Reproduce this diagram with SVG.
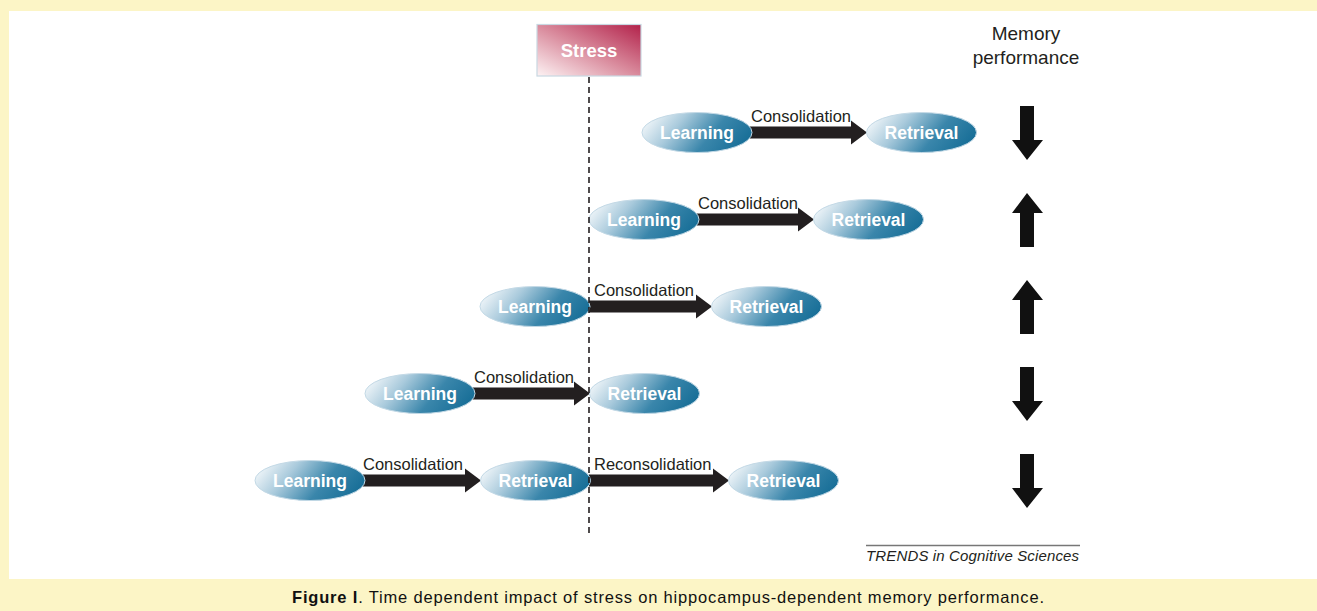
<svg xmlns="http://www.w3.org/2000/svg" width="1317" height="611" viewBox="0 0 1317 611">
<style>
.lbl{font-family:"Liberation Sans",Arial,sans-serif;font-size:16.5px;fill:#231f20}
.nt{font-family:"Liberation Sans",Arial,sans-serif;font-size:17.5px;font-weight:bold;fill:#ffffff;text-anchor:middle}
.ell{fill:url(#eg);stroke:#c3d9e6;stroke-width:1}
.arr{fill:#231f20}
.mp{font-family:"Liberation Sans",Arial,sans-serif;font-size:19px;fill:#231f20;text-anchor:middle}
</style>
<defs>
<linearGradient id="eg" x1="0" y1="0.3" x2="1" y2="0.6">
<stop offset="0" stop-color="#f2f7fa"/>
<stop offset="0.3" stop-color="#a9cadc"/>
<stop offset="0.65" stop-color="#3a86ab"/>
<stop offset="1" stop-color="#176e97"/>
</linearGradient>
<linearGradient id="sg" x1="0" y1="1" x2="1" y2="0">
<stop offset="0" stop-color="#fdf3f4"/>
<stop offset="0.5" stop-color="#d98a9c"/>
<stop offset="1" stop-color="#b2214a"/>
</linearGradient>
</defs>
<rect x="0" y="0" width="1317" height="611" fill="#fcf5c6"/>
<rect x="9" y="11" width="1308" height="568" fill="#ffffff"/>

<g id="connectors">
<path class="arr" d="M750,126.5 H851 V120.5 L867,132.5 L851,144.5 V138.5 H750 Z"/>
<path class="arr" d="M697,213.5 H798 V207.5 L814,219.5 L798,231.5 V225.5 H697 Z"/>
<path class="arr" d="M589,300.5 H696 V294.5 L712,306.5 L696,318.5 V312.5 H589 Z"/>
<path class="arr" d="M473,387.5 H574 V381.5 L590,393.5 L574,405.5 V399.5 H473 Z"/>
<path class="arr" d="M363,474.5 H465 V468.5 L481,480.5 L465,492.5 V486.5 H363 Z"/>
<path class="arr" d="M589,474.5 H713 V468.5 L729,480.5 L713,492.5 V486.5 H589 Z"/>
<text class="lbl" x="751" y="122">Consolidation</text>
<text class="lbl" x="698" y="209">Consolidation</text>
<text class="lbl" x="594" y="296">Consolidation</text>
<text class="lbl" x="474" y="383">Consolidation</text>
<text class="lbl" x="363" y="470">Consolidation</text>
<text class="lbl" x="594" y="470">Reconsolidation</text>
</g>

<g id="row1-learning"><ellipse class="ell" cx="697" cy="132.5" rx="55" ry="20"/><text class="nt" x="697" y="139">Learning</text></g>
<g id="row1-retrieval"><ellipse class="ell" cx="921.5" cy="132.5" rx="55" ry="20"/><text class="nt" x="921.5" y="139">Retrieval</text></g>
<g id="row2-learning"><ellipse class="ell" cx="644" cy="219.5" rx="55" ry="20"/><text class="nt" x="644" y="226">Learning</text></g>
<g id="row2-retrieval"><ellipse class="ell" cx="868.5" cy="219.5" rx="55" ry="20"/><text class="nt" x="868.5" y="226">Retrieval</text></g>
<g id="row3-learning"><ellipse class="ell" cx="535" cy="306.5" rx="55" ry="20"/><text class="nt" x="535" y="313">Learning</text></g>
<g id="row3-retrieval"><ellipse class="ell" cx="766.5" cy="306.5" rx="55" ry="20"/><text class="nt" x="766.5" y="313">Retrieval</text></g>
<g id="row4-learning"><ellipse class="ell" cx="420" cy="393.5" rx="55" ry="20"/><text class="nt" x="420" y="400">Learning</text></g>
<g id="row4-retrieval"><ellipse class="ell" cx="644.5" cy="393.5" rx="55" ry="20"/><text class="nt" x="644.5" y="400">Retrieval</text></g>
<g id="row5-learning"><ellipse class="ell" cx="310" cy="480.5" rx="55" ry="20"/><text class="nt" x="310" y="487">Learning</text></g>
<g id="row5-retrieval"><ellipse class="ell" cx="535.5" cy="480.5" rx="55" ry="20"/><text class="nt" x="535.5" y="487">Retrieval</text></g>
<g id="row5-retrieval2"><ellipse class="ell" cx="783.5" cy="480.5" rx="55" ry="20"/><text class="nt" x="783.5" y="487">Retrieval</text></g>

<g id="stress">
<rect x="537" y="24.5" width="104" height="51.5" fill="url(#sg)" stroke="#c8d8e2" stroke-width="1.2"/>
<text x="589" y="57" font-family="Liberation Sans, Arial, sans-serif" font-size="18.5" font-weight="bold" fill="#ffffff" text-anchor="middle">Stress</text>
</g>
<line x1="589" y1="77" x2="589" y2="533" stroke="#231f20" stroke-width="1.6" stroke-dasharray="6,4"/>

<g id="memory-performance">
<text class="mp" x="1026" y="40">Memory</text>
<text class="mp" x="1026" y="64">performance</text>
</g>
<g id="perf-arrows" fill="#111111">
<path d="M1020,106 H1034 V140 H1043 L1027,160 L1012,140 H1020 Z"/>
<path d="M1020,247 H1034 V213 H1043 L1027,193 L1012,213 H1020 Z"/>
<path d="M1020,334 H1034 V300 H1043 L1027,280 L1012,300 H1020 Z"/>
<path d="M1020,367 H1034 V401 H1043 L1027,421 L1012,401 H1020 Z"/>
<path d="M1020,454 H1034 V488 H1043 L1027,508 L1012,488 H1020 Z"/>
</g>

<line x1="866" y1="545.5" x2="1080" y2="545.5" stroke="#777777" stroke-width="1.3"/>
<text x="866" y="561" font-family="Liberation Sans, Arial, sans-serif" font-size="15" font-style="italic" fill="#231f20" textLength="213" lengthAdjust="spacing">TRENDS in Cognitive Sciences</text>
<text x="292" y="603" font-family="Liberation Sans, Arial, sans-serif" font-size="16.5" fill="#111111" textLength="752" lengthAdjust="spacing"><tspan font-weight="bold">Figure I</tspan>.  Time dependent impact of stress on hippocampus-dependent memory performance.</text>
</svg>
